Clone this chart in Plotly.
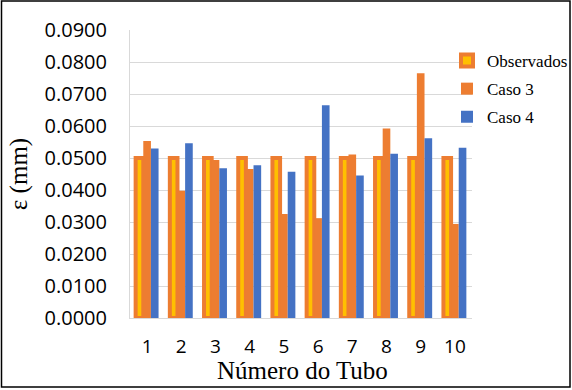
import plotly.graph_objects as go

tubos = ["1", "2", "3", "4", "5", "6", "7", "8", "9", "10"]
observados = [0.0500, 0.0500, 0.0500, 0.0500, 0.0500, 0.0500, 0.0500, 0.0500, 0.0500, 0.0500]
caso3 = [0.0553, 0.0398, 0.0494, 0.0466, 0.0325, 0.0312, 0.0511, 0.0592, 0.0765, 0.0294]
caso4 = [0.0530, 0.0546, 0.0468, 0.0477, 0.0457, 0.0665, 0.0445, 0.0513, 0.0562, 0.0532]
yticks = [0.00, 0.01, 0.02, 0.03, 0.04, 0.05, 0.06, 0.07, 0.08, 0.09]
x_title = "Número do Tubo"
y_title = "ε (mm)"

ML, MR, MT, MB = 130, 100, 30, 72
W, H = 572, 390
PW, PH = W - ML - MR, H - MT - MB

fig = go.Figure()
fig.add_trace(go.Bar(x=tubos, y=observados, name="Observados", legendgroup="a",
                     marker=dict(color="#FFC000", line=dict(color="#ED7D31", width=4))))
fig.add_trace(go.Bar(x=tubos, y=caso3, name="Caso 3", legendgroup="b",
                     marker=dict(color="#ED7D31", line=dict(width=0))))
fig.add_trace(go.Bar(x=tubos, y=caso4, name="Caso 4", legendgroup="c",
                     marker=dict(color="#4472C4", line=dict(width=0))))

def px_x(p):
    return (p - ML) / PW

def px_y(p):
    return (H - MB - p) / PH

fig.update_layout(
    width=W, height=H,
    margin=dict(l=ML, r=MR, t=MT, b=MB, autoexpand=False),
    paper_bgcolor="white", plot_bgcolor="white",
    barmode="group", bargap=0.33, bargroupgap=0,
    showlegend=True,
    legend=dict(x=px_x(447), y=px_y(43), xanchor="left", yanchor="top",
                font=dict(family="Liberation Serif", size=17, color="black"),
                bgcolor="rgba(0,0,0,0)", tracegroupgap=3, itemwidth=30),
    xaxis=dict(type="category", showgrid=False, showline=True, linecolor="#D9D9D9", linewidth=1,
               ticks="", tickfont=dict(family="Open Sans", size=19, color="black"),
               ticklabelstandoff=11),
    yaxis=dict(range=[0, 0.09], tickvals=yticks, tickformat=".4f",
               showgrid=True, gridcolor="#D9D9D9", gridwidth=1,
               zeroline=True, zerolinecolor="#D9D9D9", zerolinewidth=1,
               showline=True, linecolor="#D9D9D9", linewidth=1,
               ticks="", tickfont=dict(family="Open Sans", size=20, color="black"),
               ticklabelstandoff=18,
               title=dict(text=y_title, font=dict(family="Liberation Serif", size=25, color="black"),
                          standoff=9)),
    annotations=[dict(text=x_title, xref="paper", yref="paper", x=px_x(302), y=px_y(370),
                      xanchor="center", yanchor="middle", showarrow=False,
                      font=dict(family="Liberation Serif", size=25, color="black"))],
    shapes=[dict(type="rect", xref="paper", yref="paper",
                 x0=px_x(1.5), x1=px_x(570), y0=px_y(387), y1=px_y(1),
                 line=dict(color="black", width=1.5), fillcolor="rgba(0,0,0,0)", layer="above")],
)

fig.write_html("out.html")
